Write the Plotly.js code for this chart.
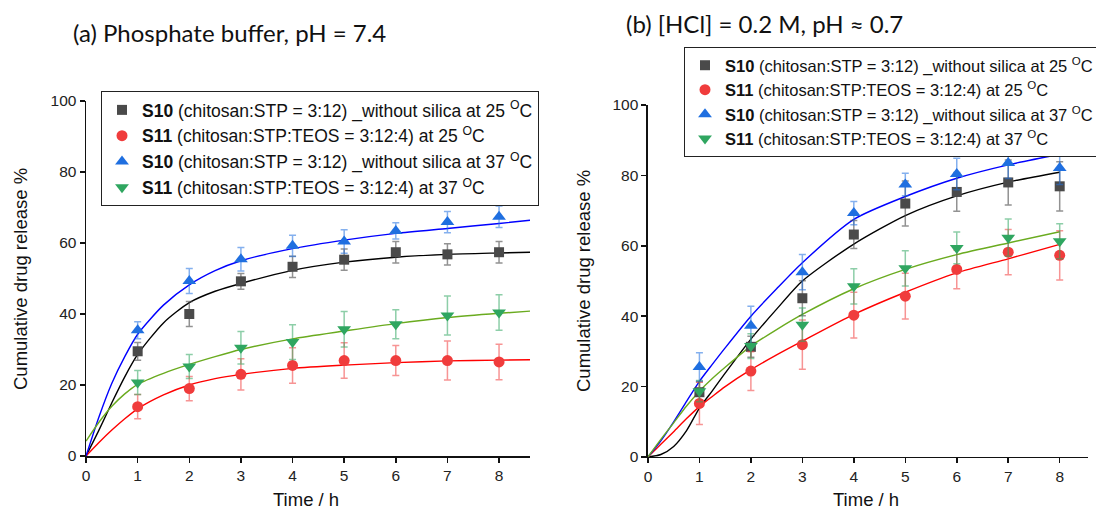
<!DOCTYPE html>
<html><head><meta charset="utf-8">
<script src="https://cdn.plot.ly/plotly-3.0.1.min.js"></script>
<style>html,body{margin:0;padding:0;background:#fff}#chart{width:1096px;height:509px}</style>
</head><body><div id="chart"></div>
<script>
// ---------- data ----------
const hours = [1, 2, 3, 4, 5, 6, 7, 8];
const seriesNames = [
  '<b>S10</b> (chitosan:STP = 3:12) _without silica at 25 <sup>O</sup>C',
  '<b>S11</b> (chitosan:STP:TEOS = 3:12:4) at 25 <sup>O</sup>C',
  '<b>S10</b> (chitosan:STP = 3:12) _without silica at 37 <sup>O</sup>C',
  '<b>S11</b> (chitosan:STP:TEOS = 3:12:4) at 37 <sup>O</sup>C'
];
const panelTitles = ['(a) Phosphate buffer, pH = 7.4', '(b) [HCl] = 0.2 M, pH \u2248 0.7'];
const xTitle = 'Time / h';
const yTitle = 'Cumulative drug release %';

// Panel (a)
const a_S10_25 = [29.5, 40.0, 49.2, 53.3, 55.3, 57.4, 56.8, 57.4];
const a_S10_25_err = [2.5, 3.5, 2.2, 3.0, 3.0, 3.0, 3.0, 3.0];
const a_S11_25 = [13.9, 19.0, 23.0, 25.5, 26.9, 26.9, 26.9, 26.5];
const a_S11_25_err = [3.4, 3.4, 4.4, 5.0, 5.0, 4.2, 5.5, 5.0];
const a_S10_37 = [35.4, 49.3, 55.4, 59.2, 60.4, 63.4, 65.9, 67.4];
const a_S10_37_err = [2.4, 3.5, 3.3, 3.0, 3.3, 2.3, 3.0, 3.0];
const a_S11_37 = [20.7, 25.2, 30.5, 32.1, 35.7, 37.1, 39.6, 40.4];
const a_S11_37_err = [3.4, 3.4, 4.6, 4.9, 5.0, 4.1, 5.5, 5.0];
// fitted curves (a)
const a_fitX = [0, 0.25, 0.5, 0.75, 1, 1.5, 2, 2.5, 3, 4, 5, 6, 7, 8, 8.6];
const a_fit_S10_25 = [0, 7.3, 15, 22.3, 28.6, 37.5, 43.2, 46.4, 48.6, 52.3, 54.6, 56, 56.8, 57.2, 57.4];
const a_fit_S11_25 = [0, 3.8, 7.3, 10.5, 13.3, 17.2, 20, 21.8, 23, 24.7, 25.6, 26.3, 26.8, 27.0, 27.1];
const a_fit_S10_37 = [0, 11, 20.5, 28, 34.3, 42.5, 48.2, 52.2, 55, 58.4, 60.8, 62.7, 64.1, 65.5, 66.4];
const a_fit_S11_37 = [4.2, 9.5, 14, 17.5, 20.2, 23.3, 25.8, 28, 30, 33, 35.2, 37.3, 39, 40.2, 40.8];

// Panel (b)
const b_S10_25 = [18.4, 31.3, 45.1, 63.2, 72.0, 75.3, 78.0, 76.9];
const b_S10_25_err = [3.0, 3.0, 5.0, 4.0, 6.4, 5.5, 6.4, 7.0];
const b_S11_25 = [15.2, 24.4, 31.9, 40.3, 45.7, 53.3, 58.2, 57.3];
const b_S11_25_err = [6.0, 5.5, 7.0, 6.5, 6.5, 5.5, 6.4, 7.0];
const b_S10_37 = [25.6, 37.3, 52.5, 69.3, 77.4, 80.4, 83.5, 82.1];
const b_S10_37_err = [4.0, 5.5, 5.0, 3.3, 3.2, 4.5, 4.4, 4.7];
const b_S11_37 = [18.7, 31.5, 37.6, 48.5, 53.6, 59.4, 62.3, 61.3];
const b_S11_37_err = [3.0, 3.5, 4.7, 5.0, 5.0, 4.5, 5.3, 5.0];
const b_fitX = [0, 0.25, 0.5, 0.75, 1, 1.25, 1.5, 2, 2.5, 3, 4, 5, 6, 7, 8];
const b_fit_S10_25 = [0, 0.7, 3, 7.5, 13.9, 18.8, 23.8, 33.5, 42, 50, 60.5, 68.6, 74.2, 78.1, 80.9];
const b_fit_S11_25 = [0, 3.6, 7.2, 10.9, 14.3, 17.2, 20, 24.8, 29, 32.9, 40.5, 46.8, 52.3, 56.3, 60.4];
const b_fit_S10_37 = [0, 4.6, 10, 15.8, 21.5, 26.3, 31, 40, 47.8, 55.2, 67.5, 74, 79.2, 83, 86];
const b_fit_S11_37 = [0, 5, 9.7, 14.5, 18.7, 22.3, 25.5, 31.5, 36.2, 40.5, 47.8, 53.3, 57.5, 60.8, 64];

// ---------- styles ----------
const markerColors = ['#4a4a4a', '#f03c3c', '#1f6fe0', '#2fa660'];
const errColors = ['rgba(74,74,74,0.6)', 'rgba(240,60,60,0.55)', 'rgba(31,111,224,0.55)', 'rgba(47,166,96,0.55)'];
const lineColors = ['#000000', '#ff0000', '#0000ff', '#6aab1f'];
const symbols = ['square', 'circle', 'triangle-up', 'triangle-down'];
const sizes = [10, 11, 12, 12];

const traces = [];
function addPanel(fitX, fits, vals, errs, xa, ya, legendId) {
  fits.forEach((f, i) => traces.push({
    x: fitX, y: f, xaxis: xa, yaxis: ya, mode: 'lines', type: 'scatter',
    line: {color: lineColors[i], width: 1.4, shape: 'spline', smoothing: 0.7},
    showlegend: false, hoverinfo: 'skip', cliponaxis: false
  }));
  vals.forEach((v, i) => traces.push({
    x: hours, y: v, xaxis: xa, yaxis: ya, mode: 'markers', type: 'scatter',
    name: seriesNames[i], legend: legendId, legendgroup: legendId + i,
    marker: {symbol: symbols[i], size: sizes[i], color: markerColors[i]},
    error_y: {type: 'data', array: errs[i], visible: true, color: errColors[i], thickness: 1.5, width: 3.5},
    cliponaxis: false
  }));
}
addPanel(a_fitX, [a_fit_S10_25, a_fit_S11_25, a_fit_S10_37, a_fit_S11_37],
  [a_S10_25, a_S11_25, a_S10_37, a_S11_37],
  [a_S10_25_err, a_S11_25_err, a_S10_37_err, a_S11_37_err], 'x', 'y', 'legend');
addPanel(b_fitX, [b_fit_S10_25, b_fit_S11_25, b_fit_S10_37, b_fit_S11_37],
  [b_S10_25, b_S11_25, b_S10_37, b_S11_37],
  [b_S10_25_err, b_S11_25_err, b_S10_37_err, b_S11_37_err], 'x2', 'y2', 'legend2');

const axisFont = {family: 'Liberation Sans, Arial, sans-serif', size: 15.5, color: '#222'};
function xAxis(domain, range, anchor) {
  return {domain: domain, range: range, anchor: anchor, tickvals: [0,1,2,3,4,5,6,7,8],
    showline: true, linecolor: '#111', linewidth: 1.5, ticks: 'outside', ticklen: 5, tickwidth: 1.5,
    tickcolor: '#111', showgrid: false, zeroline: false, tickfont: axisFont, fixedrange: true};
}
function yAxis(domain, anchor) {
  return {domain: domain, range: [0, 100], anchor: anchor, tickvals: [0,20,40,60,80,100],
    showline: true, linecolor: '#111', linewidth: 1.5, ticks: 'outside', ticklen: 5, tickwidth: 1.5,
    tickcolor: '#111', showgrid: false, zeroline: false, tickfont: axisFont, fixedrange: true};
}
const legendBase = {bgcolor: '#fff', bordercolor: '#222', borderwidth: 1,
  xanchor: 'left', yanchor: 'top', traceorder: 'grouped', tracegroupgap: 0, itemwidth: 30};

const titleFont = {family: 'Lato, Open Sans, sans-serif', size: 24, color: '#111'};
const labFont = {family: 'Liberation Sans, Arial, sans-serif', size: 18.5, color: '#111'};
const layout = {
  width: 1096, height: 509, margin: {l: 0, r: 0, t: 0, b: 0, autoexpand: false},
  paper_bgcolor: '#fff', plot_bgcolor: '#fff', showlegend: true,
  xaxis: xAxis([0.0785, 0.4836], [0, 8.6], 'y'),
  yaxis: yAxis([0.1041, 0.8016], 'x'),
  xaxis2: xAxis([0.5912, 0.9927], [0, 8.55], 'y2'),
  yaxis2: yAxis([0.1022, 0.7937], 'x2'),
  legend: Object.assign({}, legendBase, {x: 101/1096, y: 1 - 91/509,
    font: {family: 'Liberation Sans, Arial, sans-serif', size: 17.5, color: '#111'}}),
  legend2: Object.assign({}, legendBase, {x: 684/1096, y: 1 - 47/509,
    font: {family: 'Liberation Sans, Arial, sans-serif', size: 16.5, color: '#111'}}),
  annotations: [
    {text: panelTitles[0], xref: 'paper', yref: 'paper', x: 71/1096, y: 1 - 33/509, xanchor: 'left', yanchor: 'middle', showarrow: false, font: titleFont},
    {text: panelTitles[1], xref: 'paper', yref: 'paper', x: 624/1096, y: 1 - 24/509, xanchor: 'left', yanchor: 'middle', showarrow: false, font: titleFont},
    {text: yTitle, xref: 'paper', yref: 'paper', x: 20/1096, y: 1 - 279/509, xanchor: 'center', yanchor: 'middle', textangle: -90, showarrow: false, font: labFont},
    {text: yTitle, xref: 'paper', yref: 'paper', x: 583/1096, y: 1 - 281/509, xanchor: 'center', yanchor: 'middle', textangle: -90, showarrow: false, font: labFont},
    {text: xTitle, xref: 'paper', yref: 'paper', x: 306/1096, y: 1 - 499/509, xanchor: 'center', yanchor: 'middle', showarrow: false, font: labFont},
    {text: xTitle, xref: 'paper', yref: 'paper', x: 866/1096, y: 1 - 499/509, xanchor: 'center', yanchor: 'middle', showarrow: false, font: labFont}
  ]
};
Plotly.newPlot('chart', traces, layout, {staticPlot: true, displayModeBar: false});
</script></body></html>
